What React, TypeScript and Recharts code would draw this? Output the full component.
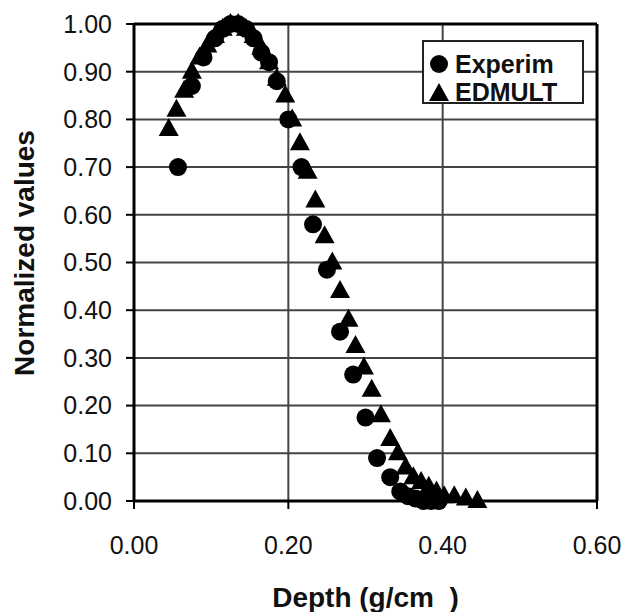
import {
  CartesianGrid,
  Label,
  Legend,
  ReferenceLine,
  Scatter,
  ScatterChart,
  XAxis,
  YAxis,
} from "recharts";

const FONT = '"Liberation Sans", Arial, sans-serif';

// Experim (circles)
const expDepth = [
  0.057, 0.075, 0.09, 0.105, 0.115, 0.125, 0.135, 0.145, 0.155, 0.165, 0.175,
  0.185, 0.2, 0.217, 0.232, 0.25, 0.267, 0.284, 0.3, 0.315, 0.332, 0.345,
  0.355, 0.365, 0.375, 0.385, 0.395,
];
const expValue = [
  0.7, 0.87, 0.93, 0.97, 0.99, 1.0, 1.0, 0.99, 0.97, 0.94, 0.92, 0.88, 0.8,
  0.7, 0.58, 0.485, 0.355, 0.265, 0.175, 0.09, 0.05, 0.02, 0.01, 0.005, 0.0,
  0.0, 0.0,
];

// EDMULT (triangles)
const edmDepth = [
  0.045, 0.055, 0.065, 0.075, 0.085, 0.095, 0.105, 0.115, 0.125, 0.135, 0.145,
  0.155, 0.165, 0.175, 0.185, 0.196, 0.205, 0.215, 0.225, 0.235, 0.247, 0.257,
  0.267, 0.278, 0.287, 0.298, 0.308, 0.32, 0.332, 0.342, 0.352, 0.362, 0.372,
  0.382, 0.392, 0.402, 0.415, 0.43, 0.445,
];
const edmValue = [
  0.78, 0.82, 0.86, 0.9, 0.93, 0.955, 0.975, 0.99, 1.0, 1.0, 0.99, 0.975,
  0.95, 0.92, 0.885, 0.85, 0.8, 0.75, 0.69, 0.63, 0.555, 0.5, 0.44, 0.38,
  0.325, 0.28, 0.233, 0.18, 0.13, 0.1, 0.07, 0.05, 0.04, 0.03, 0.02, 0.01,
  0.01, 0.005, 0.0,
];

const xTicks = [0, 0.2, 0.4, 0.6];
const yTicks = [0, 0.1, 0.2, 0.3, 0.4, 0.5, 0.6, 0.7, 0.8, 0.9, 1.0];

const expData = expDepth.map((x, i) => ({ x, y: expValue[i] }));
const edmData = edmDepth.map((x, i) => ({ x, y: edmValue[i] }));

const fmt = (v: number) => v.toFixed(2);

function CircleMark(props: any) {
  const { cx, cy } = props;
  return <circle cx={cx} cy={cy} r={9} fill="#000" />;
}

function TriangleMark(props: any) {
  const { cx, cy } = props;
  return (
    <polygon
      points={`${cx},${cy - 11} ${cx + 10},${cy + 7} ${cx - 10},${cy + 7}`}
      fill="#000"
    />
  );
}

function LegendBox() {
  const row = {
    display: "flex",
    alignItems: "center",
    height: 28,
    lineHeight: 1,
  } as const;
  return (
    <div
      style={{
        width: 162,
        height: 64,
        border: "2px solid #222",
        background: "#fff",
        fontFamily: FONT,
        fontSize: 25,
        fontWeight: "bold",
        color: "#111",
        paddingTop: 8,
        boxSizing: "border-box",
      }}
    >
      <div style={row}>
        <svg width={20} height={20} style={{ marginLeft: 5 }}>
          <circle cx={10} cy={10} r={9} fill="#000" />
        </svg>
        <span style={{ marginLeft: 6 }}>Experim</span>
      </div>
      <div style={row}>
        <svg width={20} height={20} style={{ marginLeft: 5 }}>
          <polygon points="10,1 20,19 0,19" fill="#000" />
        </svg>
        <span style={{ marginLeft: 6 }}>EDMULT</span>
      </div>
    </div>
  );
}

export default function App() {
  const tickStyle = { fontSize: 25, fill: "#111", fontFamily: FONT };
  return (
    <div style={{ position: "absolute", left: 0, top: 0, width: 628, height: 612, background: "#fff" }}>
      <ScatterChart
        width={628}
        height={612}
        margin={{ top: 24, right: 31, bottom: 0, left: 0 }}
      >
        <CartesianGrid stroke="#444" strokeWidth={2} />
        <XAxis
          dataKey="x"
          type="number"
          domain={[0, 0.6]}
          ticks={xTicks}
          interval={0}
          tickFormatter={fmt}
          tick={tickStyle}
          tickSize={8}
          tickMargin={27}
          tickLine={{ stroke: "#000", strokeWidth: 2 }}
          axisLine={{ stroke: "#000", strokeWidth: 3 }}
          height={111}
        >
          <Label
            value={"Depth (g/cm\u00a0\u00a0)"}
            position="insideBottom"
            offset={5}
            style={{ fontSize: 28, fontWeight: "bold", fill: "#111", fontFamily: FONT }}
          />
        </XAxis>
        <YAxis
          dataKey="y"
          type="number"
          domain={[0, 1]}
          ticks={yTicks}
          interval={0}
          tickFormatter={fmt}
          tick={tickStyle}
          tickSize={8}
          tickMargin={14}
          tickLine={{ stroke: "#000", strokeWidth: 2 }}
          axisLine={{ stroke: "#000", strokeWidth: 3 }}
          width={134}
        >
          <Label
            content={() => (
              <text
                x={24}
                y={253}
                transform="rotate(-90 24 253)"
                textAnchor="middle"
                dominantBaseline="central"
                style={{ fontSize: 28, fontWeight: "bold", fill: "#111", fontFamily: FONT }}
              >
                Normalized values
              </text>
            )}
          />
        </YAxis>
        <ReferenceLine y={1} stroke="#000" strokeWidth={3} />
        <ReferenceLine x={0.6} stroke="#000" strokeWidth={3} />
        <Scatter
          name="Experim"
          data={expData}
          shape={CircleMark}
          isAnimationActive={false}
        />
        <Scatter
          name="EDMULT"
          data={edmData}
          shape={TriangleMark}
          isAnimationActive={false}
        />
        <Legend
          layout="vertical"
          align="center"
          verticalAlign="middle"
          content={LegendBox}
          wrapperStyle={{ left: 422, top: 40, width: "auto", height: "auto" }}
        />
      </ScatterChart>
    </div>
  );
}
